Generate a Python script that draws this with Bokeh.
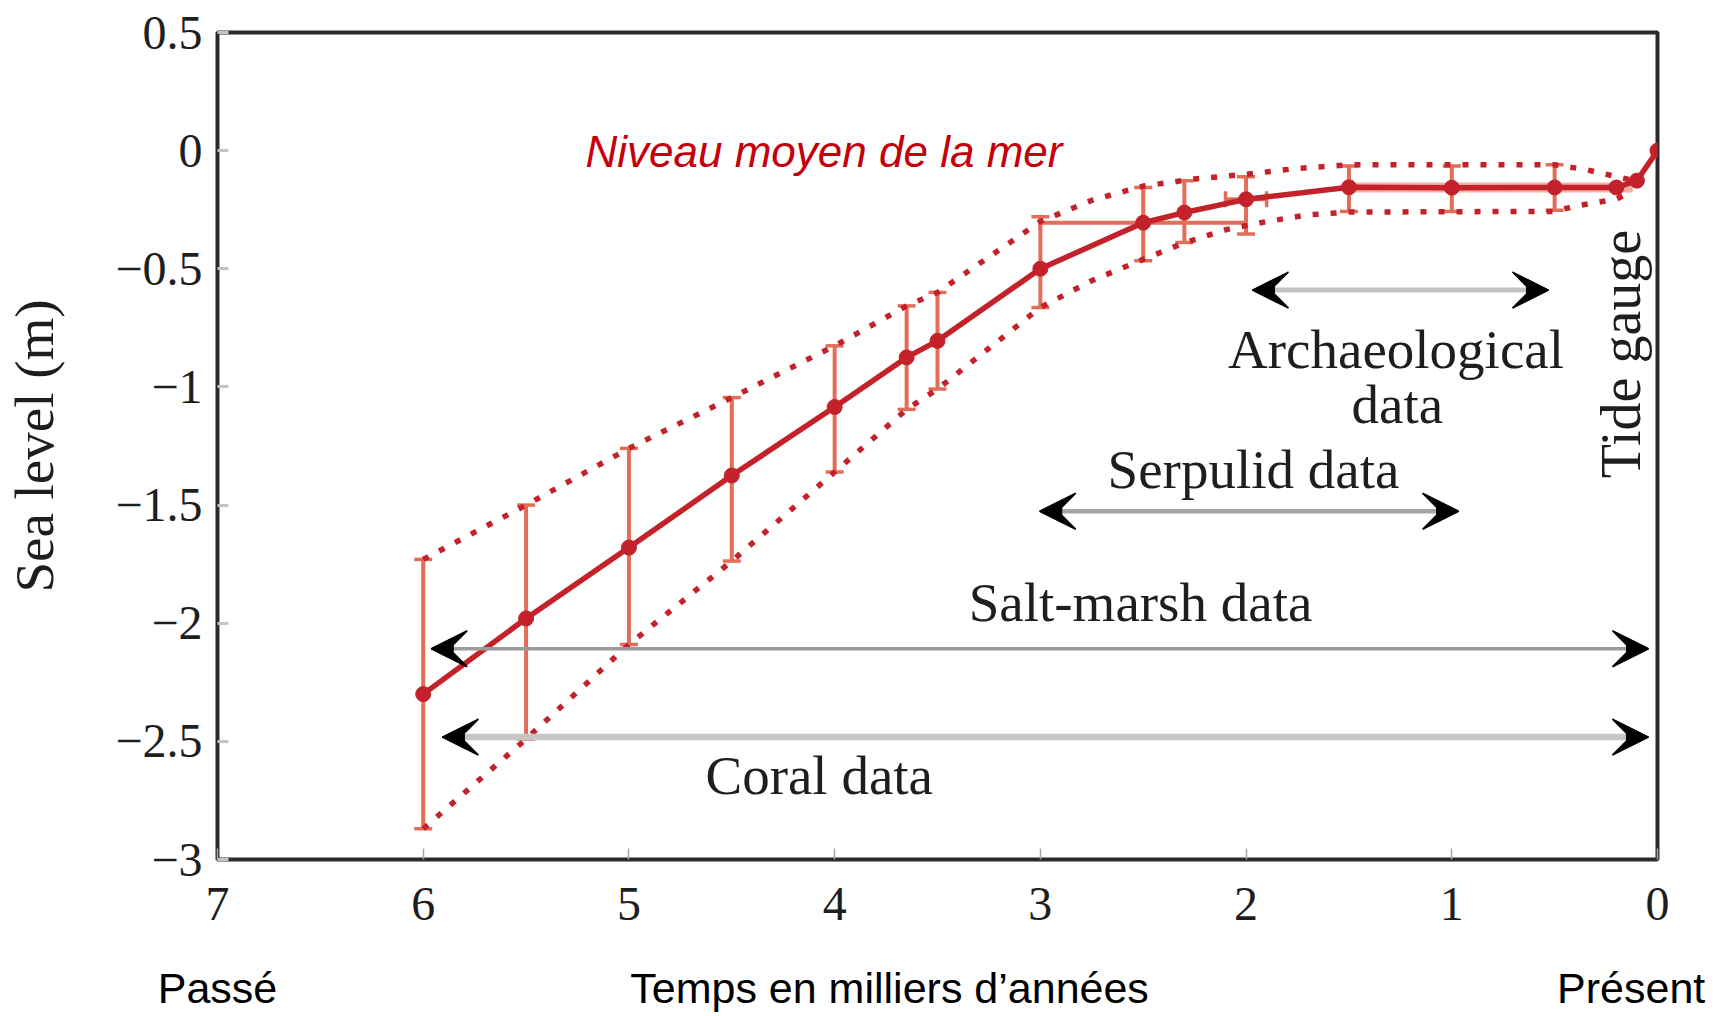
import numpy as np
from bokeh.plotting import figure
from bokeh.models import (ColumnDataSource, Whisker, TeeHead, Arrow, VeeHead, NormalHead, Label,
                          LinearAxis, FixedTicker, Range1d)
from bokeh.embed import file_html
from bokeh.resources import INLINE

# ---------------- data ----------------
years = [6.0, 5.5, 5.0, 4.5, 4.0, 3.65, 3.5, 3.0, 2.5, 2.3, 2.0, 1.5, 1.0, 0.5, 0.2, 0.1, 0.0]
sea_level = [-2.30, -1.98, -1.68, -1.375, -1.085, -0.875, -0.805, -0.50, -0.305, -0.262,
             -0.206, -0.155, -0.157, -0.156, -0.156, -0.127, 0.0]

err_years = [6.0, 5.5, 5.0, 4.5, 4.0, 3.65, 3.5, 3.0, 2.5, 2.3, 2.0, 1.5, 1.0, 0.5]
err_upper = [-1.73, -1.50, -1.26, -1.045, -0.826, -0.657, -0.60, -0.28, -0.156, -0.127,
             -0.11, -0.065, -0.065, -0.06]
err_lower = [-2.87, -2.49, -2.09, -1.737, -1.36, -1.095, -1.009, -0.664, -0.466, -0.389,
             -0.353, -0.258, -0.258, -0.252]

xerr_level = [-0.305, -0.206]
xerr_left = [3.0, 2.1]
xerr_right = [2.0, 1.9]

band_years = [1.5, 0.12]
band_level = [-0.156, -0.156]

upper_years = [6.0, 5.5, 5.0, 4.5, 4.0, 3.65, 3.5, 3.0, 2.75, 2.5, 2.25, 2.0, 1.75, 1.5,
               0.5, 0.35, 0.2, 0.1]
upper_level = [-1.73, -1.50, -1.26, -1.045, -0.826, -0.657, -0.60, -0.30, -0.21, -0.15,
               -0.12, -0.10, -0.075, -0.06, -0.06, -0.08, -0.11, -0.13]

lower_years = [6.0, 5.5, 5.0, 4.5, 4.0, 3.65, 3.5, 3.0, 2.75, 2.5, 2.3, 2.1, 1.9, 1.7,
               1.5, 0.5, 0.4, 0.3, 0.2, 0.12]
lower_level = [-2.87, -2.49, -2.09, -1.737, -1.36, -1.095, -1.009, -0.664, -0.55, -0.46,
               -0.39, -0.335, -0.30, -0.272, -0.26, -0.257, -0.235, -0.22, -0.205, -0.17]

range_names = ["Archaeological", "Serpulid", "Salt-marsh", "Coral"]
range_start = [1.969, 3.003, 5.961, 5.907]
range_end = [0.530, 0.967, 0.044, 0.044]
range_level = [-0.590, -1.526, -2.108, -2.482]

x_ticks = [7, 6, 5, 4, 3, 2, 1, 0]
x_tick_labels = ["7", "6", "5", "4", "3", "2", "1", "0"]
y_ticks = [0.5, 0.0, -0.5, -1.0, -1.5, -2.0, -2.5, -3.0]
y_tick_labels = ["0.5", "0", "\u22120.5", "\u22121", "\u22121.5", "\u22122", "\u22122.5", "\u22123"]

time_marks = [7.0, 3.733, 0.128]
time_labels = ["Pass\u00e9", "Temps en milliers d\u2019ann\u00e9es", "Pr\u00e9sent"]

# ---------------- style ----------------
RED = "#c4222b"
ERR = "#e26e5a"
BAND = "#eeb2a6"
TITLE_RED = "#c5000b"
TXT = "#1e1e1e"
SERIF = "Liberation Serif"
SANS = "Liberation Sans"
range_colors = ["#c2c2c2", "#a6a6a6", "#9b9b9b", "#c6c6c6"]
range_widths = [5, 4.5, 3.3, 6.5]
DY = 0.072   # label baseline correction (data units)

p = figure(width=1719, height=1016, x_range=Range1d(7, 0), y_range=Range1d(-3, 0.5),
           output_backend="svg", toolbar_location=None,
           min_border_left=217, min_border_right=62, min_border_top=32, min_border_bottom=157)
p.xgrid.visible = False
p.ygrid.visible = False
p.outline_line_color = "#2b2b2b"
p.outline_line_width = 4
p.background_fill_color = "white"
p.border_fill_color = "white"

xa = p.xaxis[0]
ya = p.yaxis[0]
xa.ticker = FixedTicker(ticks=x_ticks)
xa.major_label_overrides = dict(zip(x_ticks, x_tick_labels))
ya.ticker = FixedTicker(ticks=y_ticks)
ya.major_label_overrides = dict(zip(y_ticks, y_tick_labels))
for ax in (xa, ya):
    ax.axis_line_color = None
    ax.major_tick_in = 11
    ax.major_tick_out = 0
    ax.minor_tick_in = 0
    ax.minor_tick_out = 0
    ax.major_label_text_font = SERIF
    ax.major_label_text_font_size = "48px"
    ax.major_label_text_color = TXT
ya.major_tick_line_color = "#c4c4c4"
ya.major_tick_line_width = 3
xa.major_tick_line_color = "#a8a8a8"
xa.major_tick_line_width = 1.5
ya.major_label_standoff = 15
xa.major_label_standoff = 28
ya.axis_label = "Sea level (m)"
ya.axis_label_text_font = SERIF
ya.axis_label_text_font_size = "55px"
ya.axis_label_text_font_style = "normal"
ya.axis_label_text_color = TXT
ya.axis_label_standoff = 47

# time captions under the axis
time_ax = LinearAxis(ticker=FixedTicker(ticks=time_marks),
                     major_label_overrides=dict(zip(time_marks, time_labels)),
                     axis_line_color=None, major_tick_line_color=None,
                     major_tick_in=0, major_tick_out=0, minor_tick_in=0, minor_tick_out=0,
                     major_label_text_font=SANS, major_label_text_font_size="43px",
                     major_label_text_color="black", major_label_standoff=41)
p.add_layout(time_ax, "below")

# ---------------- range arrows ----------------
for x0, x1, yv, c, w in zip(range_start, range_end, range_level, range_colors, range_widths):
    p.add_layout(Arrow(x_start=x0, y_start=yv, x_end=x1, y_end=yv,
                       line_color=c, line_width=w,
                       start=VeeHead(size=36, fill_color="black", line_color="black", line_width=1.5),
                       end=VeeHead(size=36, fill_color="black", line_color="black", line_width=1.5)))
    p.add_layout(Arrow(x_start=x0, y_start=yv, x_end=x1, y_end=yv,
                       line_color=None,
                       start=NormalHead(size=22, fill_color="black", line_color="black", line_width=1),
                       end=NormalHead(size=22, fill_color="black", line_color="black", line_width=1)))

# ---------------- error bars ----------------
err_src = ColumnDataSource(dict(x=err_years, upper=err_upper, lower=err_lower))
wv = Whisker(base="x", upper="upper", lower="lower", source=err_src, dimension="height",
             line_color=ERR, line_width=4,
             upper_head=TeeHead(size=18, line_color=ERR, line_width=3.5),
             lower_head=TeeHead(size=18, line_color=ERR, line_width=3.5))
wv.level = "underlay"
p.add_layout(wv)

xerr_src = ColumnDataSource(dict(y=xerr_level, left=xerr_left, right=xerr_right))
wh = Whisker(base="y", upper="left", lower="right", source=xerr_src, dimension="width",
             line_color=ERR, line_width=4,
             upper_head=TeeHead(size=16, line_color=ERR, line_width=3.5),
             lower_head=TeeHead(size=16, line_color=ERR, line_width=3.5))
wh.level = "underlay"
p.add_layout(wh)

p.line(band_years, band_level, line_color=BAND, line_width=10)

# ---------------- envelopes ----------------
p.line(upper_years, upper_level, line_color=RED, line_width=5.5, line_dash="6 12")
p.line(lower_years, lower_level, line_color=RED, line_width=5.5, line_dash="6 12")

# ---------------- mean sea level curve ----------------
p.line(years, sea_level, line_color=RED, line_width=5.5)
p.scatter(years, sea_level, size=15, fill_color=RED, line_color=RED)

# ---------------- texts ----------------
def serif_label(x, y, text):
    p.add_layout(Label(x=x, y=y + DY, text=text, text_font=SERIF, text_font_size="55px",
                       text_color=TXT, text_align="center", text_baseline="alphabetic"))

serif_label(1.271, -0.915, "Archaeological")
serif_label(1.265, -1.148, "data")
serif_label(1.964, -1.423, "Serpulid data")
serif_label(2.513, -1.985, "Salt-marsh data")
serif_label(4.075, -2.715, "Coral data")
p.add_layout(Label(x=0.177, y=-0.861, text="Tide gauge", text_font=SERIF, text_font_size="56px",
                   text_color=TXT, text_align="center", text_baseline="alphabetic",
                   angle=np.pi / 2))

p.add_layout(Label(x=5.211, y=-0.075 + DY, text="Niveau moyen de la mer", text_font=SANS,
                   text_font_size="44px", text_font_style="italic", text_color=TITLE_RED,
                   text_align="left", text_baseline="alphabetic"))

open("out.html", "w").write(file_html(p, INLINE))
